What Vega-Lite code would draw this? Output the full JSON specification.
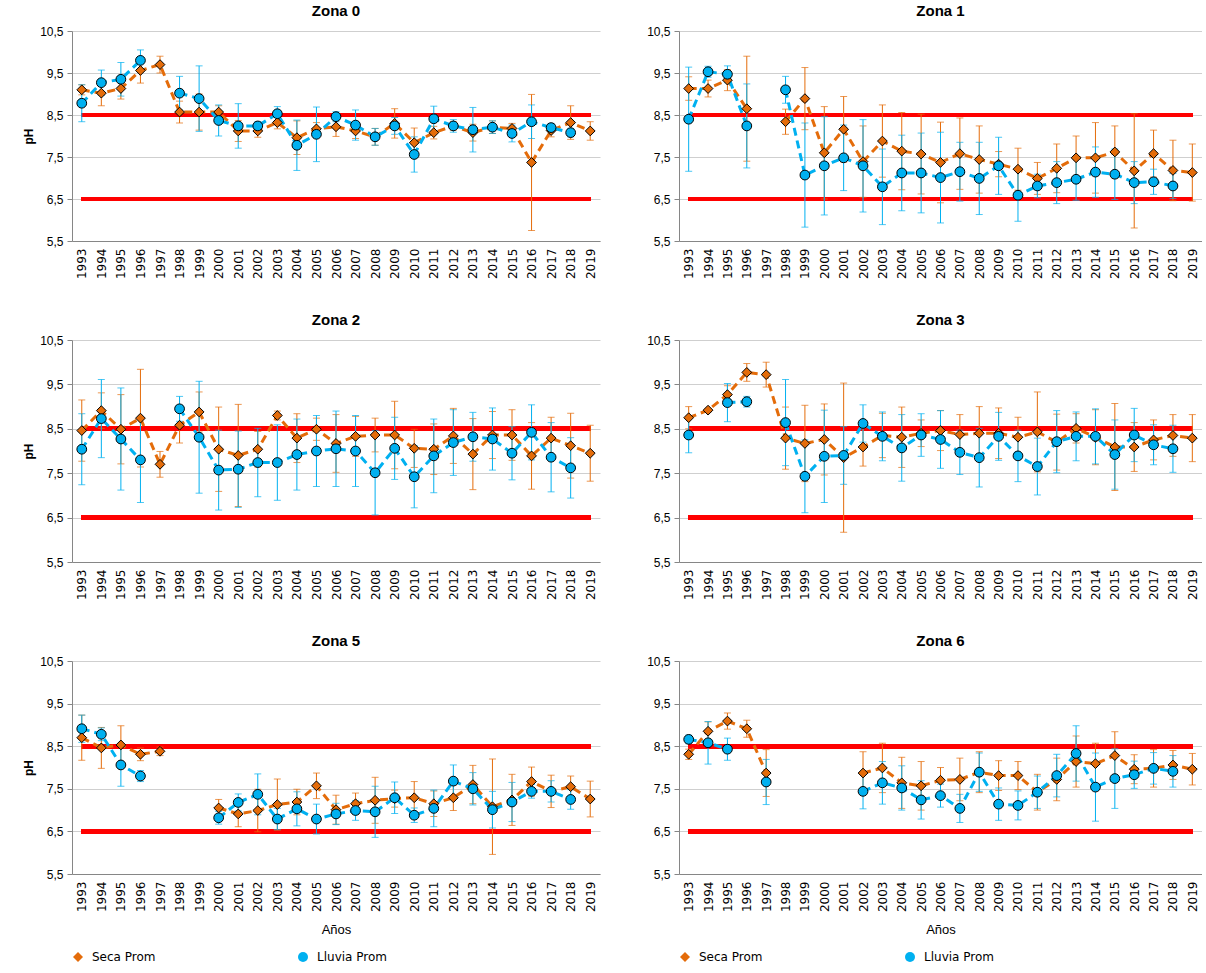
{
"$schema":"https://vega.github.io/schema/vega-lite/v6.json",
"padding":{"left":22,"top":4,"right":0,"bottom":0},
"background":"white",
"datasets":{
"z0":[
{"a":"1993","s":"Seca Prom","v":9.10,"e":0.12},{"a":"1994","s":"Seca Prom","v":9.02,"e":0.30},{"a":"1995","s":"Seca Prom","v":9.13,"e":0.25},{"a":"1996","s":"Seca Prom","v":9.56,"e":0.30},{"a":"1997","s":"Seca Prom","v":9.70,"e":0.20},{"a":"1998","s":"Seca Prom","v":8.57,"e":0.26},{"a":"1999","s":"Seca Prom","v":8.57,"e":0.43},{"a":"2000","s":"Seca Prom","v":8.57,"e":0.15},{"a":"2001","s":"Seca Prom","v":8.12,"e":0.25},{"a":"2002","s":"Seca Prom","v":8.12,"e":0.15},{"a":"2003","s":"Seca Prom","v":8.32,"e":0.15},{"a":"2004","s":"Seca Prom","v":7.96,"e":0.40},{"a":"2005","s":"Seca Prom","v":8.17,"e":0.15},{"a":"2006","s":"Seca Prom","v":8.22,"e":0.23},{"a":"2007","s":"Seca Prom","v":8.12,"e":0.18},{"a":"2008","s":"Seca Prom","v":7.98,"e":0.20},{"a":"2009","s":"Seca Prom","v":8.30,"e":0.35},{"a":"2010","s":"Seca Prom","v":7.84,"e":0.35},{"a":"2011","s":"Seca Prom","v":8.08,"e":0.15},{"a":"2012","s":"Seca Prom","v":8.24,"e":0.10},{"a":"2013","s":"Seca Prom","v":8.08,"e":0.20},{"a":"2014","s":"Seca Prom","v":8.21,"e":0.15},{"a":"2015","s":"Seca Prom","v":8.18,"e":0.12},{"a":"2016","s":"Seca Prom","v":7.37,"e":1.62},{"a":"2017","s":"Seca Prom","v":8.13,"e":0.15},{"a":"2018","s":"Seca Prom","v":8.32,"e":0.40},{"a":"2019","s":"Seca Prom","v":8.12,"e":0.22},
{"a":"1993","s":"Lluvia Prom","v":8.78,"e":0.44},{"a":"1994","s":"Lluvia Prom","v":9.27,"e":0.30},{"a":"1995","s":"Lluvia Prom","v":9.35,"e":0.40},{"a":"1996","s":"Lluvia Prom","v":9.80,"e":0.25},{"a":"1997","s":"Lluvia Prom","v":null,"e":null},{"a":"1998","s":"Lluvia Prom","v":9.02,"e":0.40},{"a":"1999","s":"Lluvia Prom","v":8.89,"e":0.78},{"a":"2000","s":"Lluvia Prom","v":8.37,"e":0.37},{"a":"2001","s":"Lluvia Prom","v":8.24,"e":0.53},{"a":"2002","s":"Lluvia Prom","v":8.24,"e":0.10},{"a":"2003","s":"Lluvia Prom","v":8.53,"e":0.17},{"a":"2004","s":"Lluvia Prom","v":7.78,"e":0.60},{"a":"2005","s":"Lluvia Prom","v":8.04,"e":0.65},{"a":"2006","s":"Lluvia Prom","v":8.46,"e":0.12},{"a":"2007","s":"Lluvia Prom","v":8.26,"e":0.36},{"a":"2008","s":"Lluvia Prom","v":7.98,"e":0.20},{"a":"2009","s":"Lluvia Prom","v":8.24,"e":0.20},{"a":"2010","s":"Lluvia Prom","v":7.56,"e":0.42},{"a":"2011","s":"Lluvia Prom","v":8.41,"e":0.30},{"a":"2012","s":"Lluvia Prom","v":8.24,"e":0.15},{"a":"2013","s":"Lluvia Prom","v":8.15,"e":0.53},{"a":"2014","s":"Lluvia Prom","v":8.21,"e":0.15},{"a":"2015","s":"Lluvia Prom","v":8.06,"e":0.20},{"a":"2016","s":"Lluvia Prom","v":8.34,"e":0.40},{"a":"2017","s":"Lluvia Prom","v":8.20,"e":0.10},{"a":"2018","s":"Lluvia Prom","v":8.08,"e":0.10}
],
"z1":[
{"a":"1993","s":"Seca Prom","v":9.13,"e":0.28},{"a":"1994","s":"Seca Prom","v":9.13,"e":0.20},{"a":"1995","s":"Seca Prom","v":9.33,"e":0.25},{"a":"1996","s":"Seca Prom","v":8.65,"e":1.25},{"a":"1997","s":"Seca Prom","v":null,"e":null},{"a":"1998","s":"Seca Prom","v":8.34,"e":0.30},{"a":"1999","s":"Seca Prom","v":8.89,"e":0.74},{"a":"2000","s":"Seca Prom","v":7.60,"e":1.10},{"a":"2001","s":"Seca Prom","v":8.16,"e":0.78},{"a":"2002","s":"Seca Prom","v":7.39,"e":0.85},{"a":"2003","s":"Seca Prom","v":7.88,"e":0.86},{"a":"2004","s":"Seca Prom","v":7.64,"e":0.92},{"a":"2005","s":"Seca Prom","v":7.57,"e":0.95},{"a":"2006","s":"Seca Prom","v":7.37,"e":0.96},{"a":"2007","s":"Seca Prom","v":7.58,"e":0.85},{"a":"2008","s":"Seca Prom","v":7.44,"e":0.80},{"a":"2009","s":"Seca Prom","v":7.33,"e":0.30},{"a":"2010","s":"Seca Prom","v":7.21,"e":0.50},{"a":"2011","s":"Seca Prom","v":6.99,"e":0.38},{"a":"2012","s":"Seca Prom","v":7.23,"e":0.58},{"a":"2013","s":"Seca Prom","v":7.48,"e":0.52},{"a":"2014","s":"Seca Prom","v":7.48,"e":0.84},{"a":"2015","s":"Seca Prom","v":7.62,"e":0.62},{"a":"2016","s":"Seca Prom","v":7.17,"e":1.36},{"a":"2017","s":"Seca Prom","v":7.58,"e":0.56},{"a":"2018","s":"Seca Prom","v":7.18,"e":0.72},{"a":"2019","s":"Seca Prom","v":7.13,"e":0.68},
{"a":"1993","s":"Lluvia Prom","v":8.40,"e":1.24},{"a":"1994","s":"Lluvia Prom","v":9.53,"e":0.13},{"a":"1995","s":"Lluvia Prom","v":9.47,"e":0.20},{"a":"1996","s":"Lluvia Prom","v":8.24,"e":1.00},{"a":"1997","s":"Lluvia Prom","v":null,"e":null},{"a":"1998","s":"Lluvia Prom","v":9.10,"e":0.32},{"a":"1999","s":"Lluvia Prom","v":7.07,"e":1.24},{"a":"2000","s":"Lluvia Prom","v":7.29,"e":1.17},{"a":"2001","s":"Lluvia Prom","v":7.48,"e":0.78},{"a":"2002","s":"Lluvia Prom","v":7.29,"e":1.10},{"a":"2003","s":"Lluvia Prom","v":6.79,"e":0.90},{"a":"2004","s":"Lluvia Prom","v":7.12,"e":0.90},{"a":"2005","s":"Lluvia Prom","v":7.12,"e":0.95},{"a":"2006","s":"Lluvia Prom","v":7.01,"e":1.08},{"a":"2007","s":"Lluvia Prom","v":7.15,"e":0.70},{"a":"2008","s":"Lluvia Prom","v":6.99,"e":0.86},{"a":"2009","s":"Lluvia Prom","v":7.29,"e":0.68},{"a":"2010","s":"Lluvia Prom","v":6.59,"e":0.62},{"a":"2011","s":"Lluvia Prom","v":6.81,"e":0.28},{"a":"2012","s":"Lluvia Prom","v":6.89,"e":0.50},{"a":"2013","s":"Lluvia Prom","v":6.97,"e":0.50},{"a":"2014","s":"Lluvia Prom","v":7.14,"e":0.60},{"a":"2015","s":"Lluvia Prom","v":7.09,"e":0.60},{"a":"2016","s":"Lluvia Prom","v":6.89,"e":0.50},{"a":"2017","s":"Lluvia Prom","v":6.91,"e":0.30},{"a":"2018","s":"Lluvia Prom","v":6.81,"e":0.30}
],
"z2":[
{"a":"1993","s":"Seca Prom","v":8.46,"e":0.69},{"a":"1994","s":"Seca Prom","v":8.91,"e":0.40},{"a":"1995","s":"Seca Prom","v":8.49,"e":0.78},{"a":"1996","s":"Seca Prom","v":8.74,"e":1.10},{"a":"1997","s":"Seca Prom","v":7.70,"e":0.29},{"a":"1998","s":"Seca Prom","v":8.58,"e":0.40},{"a":"1999","s":"Seca Prom","v":8.88,"e":0.45},{"a":"2000","s":"Seca Prom","v":8.04,"e":0.95},{"a":"2001","s":"Seca Prom","v":7.90,"e":1.15},{"a":"2002","s":"Seca Prom","v":8.04,"e":0.40},{"a":"2003","s":"Seca Prom","v":8.80,"e":0.10},{"a":"2004","s":"Seca Prom","v":8.29,"e":0.55},{"a":"2005","s":"Seca Prom","v":8.49,"e":0.25},{"a":"2006","s":"Seca Prom","v":8.17,"e":0.65},{"a":"2007","s":"Seca Prom","v":8.33,"e":0.45},{"a":"2008","s":"Seca Prom","v":8.36,"e":0.38},{"a":"2009","s":"Seca Prom","v":8.36,"e":0.76},{"a":"2010","s":"Seca Prom","v":8.06,"e":0.43},{"a":"2011","s":"Seca Prom","v":8.04,"e":0.57},{"a":"2012","s":"Seca Prom","v":8.34,"e":0.62},{"a":"2013","s":"Seca Prom","v":7.93,"e":0.80},{"a":"2014","s":"Seca Prom","v":8.36,"e":0.53},{"a":"2015","s":"Seca Prom","v":8.36,"e":0.57},{"a":"2016","s":"Seca Prom","v":7.89,"e":0.75},{"a":"2017","s":"Seca Prom","v":8.29,"e":0.47},{"a":"2018","s":"Seca Prom","v":8.12,"e":0.73},{"a":"2019","s":"Seca Prom","v":7.95,"e":0.63},
{"a":"1993","s":"Lluvia Prom","v":8.04,"e":0.80},{"a":"1994","s":"Lluvia Prom","v":8.73,"e":0.88},{"a":"1995","s":"Lluvia Prom","v":8.27,"e":1.15},{"a":"1996","s":"Lluvia Prom","v":7.80,"e":0.96},{"a":"1997","s":"Lluvia Prom","v":null,"e":null},{"a":"1998","s":"Lluvia Prom","v":8.95,"e":0.28},{"a":"1999","s":"Lluvia Prom","v":8.31,"e":1.26},{"a":"2000","s":"Lluvia Prom","v":7.57,"e":0.90},{"a":"2001","s":"Lluvia Prom","v":7.59,"e":0.86},{"a":"2002","s":"Lluvia Prom","v":7.74,"e":0.77},{"a":"2003","s":"Lluvia Prom","v":7.74,"e":0.85},{"a":"2004","s":"Lluvia Prom","v":7.92,"e":0.80},{"a":"2005","s":"Lluvia Prom","v":8.00,"e":0.80},{"a":"2006","s":"Lluvia Prom","v":8.05,"e":0.85},{"a":"2007","s":"Lluvia Prom","v":8.00,"e":0.80},{"a":"2008","s":"Lluvia Prom","v":7.51,"e":0.95},{"a":"2009","s":"Lluvia Prom","v":8.06,"e":0.70},{"a":"2010","s":"Lluvia Prom","v":7.42,"e":0.70},{"a":"2011","s":"Lluvia Prom","v":7.89,"e":0.83},{"a":"2012","s":"Lluvia Prom","v":8.19,"e":0.74},{"a":"2013","s":"Lluvia Prom","v":8.32,"e":0.55},{"a":"2014","s":"Lluvia Prom","v":8.27,"e":0.70},{"a":"2015","s":"Lluvia Prom","v":7.95,"e":0.60},{"a":"2016","s":"Lluvia Prom","v":8.42,"e":0.62},{"a":"2017","s":"Lluvia Prom","v":7.86,"e":0.78},{"a":"2018","s":"Lluvia Prom","v":7.62,"e":0.68}
],
"z3":[
{"a":"1993","s":"Seca Prom","v":8.75,"e":0.25},{"a":"1994","s":"Seca Prom","v":8.92,"e":0.04},{"a":"1995","s":"Seca Prom","v":9.27,"e":0.20},{"a":"1996","s":"Seca Prom","v":9.77,"e":0.20},{"a":"1997","s":"Seca Prom","v":9.72,"e":0.28},{"a":"1998","s":"Seca Prom","v":8.29,"e":0.70},{"a":"1999","s":"Seca Prom","v":8.17,"e":0.86},{"a":"2000","s":"Seca Prom","v":8.26,"e":0.80},{"a":"2001","s":"Seca Prom","v":7.85,"e":1.68},{"a":"2002","s":"Seca Prom","v":8.09,"e":0.43},{"a":"2003","s":"Seca Prom","v":8.35,"e":0.50},{"a":"2004","s":"Seca Prom","v":8.31,"e":0.68},{"a":"2005","s":"Seca Prom","v":8.40,"e":0.30},{"a":"2006","s":"Seca Prom","v":8.46,"e":0.45},{"a":"2007","s":"Seca Prom","v":8.37,"e":0.45},{"a":"2008","s":"Seca Prom","v":8.40,"e":0.60},{"a":"2009","s":"Seca Prom","v":8.40,"e":0.57},{"a":"2010","s":"Seca Prom","v":8.31,"e":0.45},{"a":"2011","s":"Seca Prom","v":8.43,"e":0.90},{"a":"2012","s":"Seca Prom","v":8.20,"e":0.63},{"a":"2013","s":"Seca Prom","v":8.51,"e":0.33},{"a":"2014","s":"Seca Prom","v":8.31,"e":0.62},{"a":"2015","s":"Seca Prom","v":8.09,"e":0.98},{"a":"2016","s":"Seca Prom","v":8.09,"e":0.55},{"a":"2017","s":"Seca Prom","v":8.25,"e":0.45},{"a":"2018","s":"Seca Prom","v":8.35,"e":0.47},{"a":"2019","s":"Seca Prom","v":8.29,"e":0.53},
{"a":"1993","s":"Lluvia Prom","v":8.36,"e":0.40},{"a":"1994","s":"Lluvia Prom","v":null,"e":null},{"a":"1995","s":"Lluvia Prom","v":9.09,"e":0.43},{"a":"1996","s":"Lluvia Prom","v":9.11,"e":0.12},{"a":"1997","s":"Lluvia Prom","v":null,"e":null},{"a":"1998","s":"Lluvia Prom","v":8.64,"e":0.97},{"a":"1999","s":"Lluvia Prom","v":7.43,"e":0.82},{"a":"2000","s":"Lluvia Prom","v":7.88,"e":1.04},{"a":"2001","s":"Lluvia Prom","v":7.90,"e":0.65},{"a":"2002","s":"Lluvia Prom","v":8.62,"e":0.42},{"a":"2003","s":"Lluvia Prom","v":8.33,"e":0.55},{"a":"2004","s":"Lluvia Prom","v":8.07,"e":0.75},{"a":"2005","s":"Lluvia Prom","v":8.36,"e":0.48},{"a":"2006","s":"Lluvia Prom","v":8.26,"e":0.65},{"a":"2007","s":"Lluvia Prom","v":7.97,"e":0.50},{"a":"2008","s":"Lluvia Prom","v":7.85,"e":0.66},{"a":"2009","s":"Lluvia Prom","v":8.33,"e":0.54},{"a":"2010","s":"Lluvia Prom","v":7.89,"e":0.58},{"a":"2011","s":"Lluvia Prom","v":7.65,"e":0.64},{"a":"2012","s":"Lluvia Prom","v":8.21,"e":0.70},{"a":"2013","s":"Lluvia Prom","v":8.33,"e":0.55},{"a":"2014","s":"Lluvia Prom","v":8.33,"e":0.62},{"a":"2015","s":"Lluvia Prom","v":7.92,"e":0.78},{"a":"2016","s":"Lluvia Prom","v":8.36,"e":0.60},{"a":"2017","s":"Lluvia Prom","v":8.14,"e":0.45},{"a":"2018","s":"Lluvia Prom","v":8.05,"e":0.53}
],
"z5":[
{"a":"1993","s":"Seca Prom","v":8.70,"e":0.53},{"a":"1994","s":"Seca Prom","v":8.46,"e":0.48},{"a":"1995","s":"Seca Prom","v":8.53,"e":0.45},{"a":"1996","s":"Seca Prom","v":8.31,"e":0.15},{"a":"1997","s":"Seca Prom","v":8.38,"e":0.10},{"a":"1998","s":"Seca Prom","v":null,"e":null},{"a":"1999","s":"Seca Prom","v":null,"e":null},{"a":"2000","s":"Seca Prom","v":7.05,"e":0.20},{"a":"2001","s":"Seca Prom","v":6.91,"e":0.30},{"a":"2002","s":"Seca Prom","v":6.99,"e":0.50},{"a":"2003","s":"Seca Prom","v":7.13,"e":0.60},{"a":"2004","s":"Seca Prom","v":7.19,"e":0.30},{"a":"2005","s":"Seca Prom","v":7.57,"e":0.30},{"a":"2006","s":"Seca Prom","v":7.01,"e":0.34},{"a":"2007","s":"Seca Prom","v":7.15,"e":0.25},{"a":"2008","s":"Seca Prom","v":7.23,"e":0.54},{"a":"2009","s":"Seca Prom","v":7.27,"e":0.20},{"a":"2010","s":"Seca Prom","v":7.29,"e":0.38},{"a":"2011","s":"Seca Prom","v":7.15,"e":0.30},{"a":"2012","s":"Seca Prom","v":7.29,"e":0.30},{"a":"2013","s":"Seca Prom","v":7.60,"e":0.45},{"a":"2014","s":"Seca Prom","v":7.08,"e":1.12},{"a":"2015","s":"Seca Prom","v":7.24,"e":0.60},{"a":"2016","s":"Seca Prom","v":7.67,"e":0.34},{"a":"2017","s":"Seca Prom","v":7.44,"e":0.38},{"a":"2018","s":"Seca Prom","v":7.55,"e":0.25},{"a":"2019","s":"Seca Prom","v":7.26,"e":0.42},
{"a":"1993","s":"Lluvia Prom","v":8.91,"e":0.32},{"a":"1994","s":"Lluvia Prom","v":8.78,"e":0.15},{"a":"1995","s":"Lluvia Prom","v":8.06,"e":0.50},{"a":"1996","s":"Lluvia Prom","v":7.80,"e":0.13},{"a":"1997","s":"Lluvia Prom","v":null,"e":null},{"a":"1998","s":"Lluvia Prom","v":null,"e":null},{"a":"1999","s":"Lluvia Prom","v":null,"e":null},{"a":"2000","s":"Lluvia Prom","v":6.82,"e":0.15},{"a":"2001","s":"Lluvia Prom","v":7.18,"e":0.20},{"a":"2002","s":"Lluvia Prom","v":7.37,"e":0.48},{"a":"2003","s":"Lluvia Prom","v":6.79,"e":0.25},{"a":"2004","s":"Lluvia Prom","v":7.03,"e":0.40},{"a":"2005","s":"Lluvia Prom","v":6.79,"e":0.35},{"a":"2006","s":"Lluvia Prom","v":6.91,"e":0.25},{"a":"2007","s":"Lluvia Prom","v":6.99,"e":0.23},{"a":"2008","s":"Lluvia Prom","v":6.96,"e":0.60},{"a":"2009","s":"Lluvia Prom","v":7.29,"e":0.37},{"a":"2010","s":"Lluvia Prom","v":6.88,"e":0.17},{"a":"2011","s":"Lluvia Prom","v":7.04,"e":0.43},{"a":"2012","s":"Lluvia Prom","v":7.68,"e":0.38},{"a":"2013","s":"Lluvia Prom","v":7.50,"e":0.38},{"a":"2014","s":"Lluvia Prom","v":7.01,"e":0.43},{"a":"2015","s":"Lluvia Prom","v":7.19,"e":0.46},{"a":"2016","s":"Lluvia Prom","v":7.44,"e":0.16},{"a":"2017","s":"Lluvia Prom","v":7.44,"e":0.25},{"a":"2018","s":"Lluvia Prom","v":7.25,"e":0.23}
],
"z6":[
{"a":"1993","s":"Seca Prom","v":8.31,"e":0.12},{"a":"1994","s":"Seca Prom","v":8.85,"e":0.22},{"a":"1995","s":"Seca Prom","v":9.09,"e":0.19},{"a":"1996","s":"Seca Prom","v":8.91,"e":0.20},{"a":"1997","s":"Seca Prom","v":7.87,"e":0.55},{"a":"1998","s":"Seca Prom","v":null,"e":null},{"a":"1999","s":"Seca Prom","v":null,"e":null},{"a":"2000","s":"Seca Prom","v":null,"e":null},{"a":"2001","s":"Seca Prom","v":null,"e":null},{"a":"2002","s":"Seca Prom","v":7.87,"e":0.50},{"a":"2003","s":"Seca Prom","v":7.99,"e":0.58},{"a":"2004","s":"Seca Prom","v":7.64,"e":0.60},{"a":"2005","s":"Seca Prom","v":7.57,"e":0.57},{"a":"2006","s":"Seca Prom","v":7.70,"e":0.30},{"a":"2007","s":"Seca Prom","v":7.72,"e":0.50},{"a":"2008","s":"Seca Prom","v":7.89,"e":0.48},{"a":"2009","s":"Seca Prom","v":7.81,"e":0.35},{"a":"2010","s":"Seca Prom","v":7.81,"e":0.33},{"a":"2011","s":"Seca Prom","v":7.42,"e":0.42},{"a":"2012","s":"Seca Prom","v":7.72,"e":0.50},{"a":"2013","s":"Seca Prom","v":8.14,"e":0.60},{"a":"2014","s":"Seca Prom","v":8.09,"e":0.48},{"a":"2015","s":"Seca Prom","v":8.28,"e":0.56},{"a":"2016","s":"Seca Prom","v":7.96,"e":0.34},{"a":"2017","s":"Seca Prom","v":7.98,"e":0.44},{"a":"2018","s":"Seca Prom","v":8.06,"e":0.34},{"a":"2019","s":"Seca Prom","v":7.96,"e":0.37},
{"a":"1993","s":"Lluvia Prom","v":8.66,"e":0.10},{"a":"1994","s":"Lluvia Prom","v":8.58,"e":0.50},{"a":"1995","s":"Lluvia Prom","v":8.43,"e":0.26},{"a":"1996","s":"Lluvia Prom","v":null,"e":null},{"a":"1997","s":"Lluvia Prom","v":7.66,"e":0.53},{"a":"1998","s":"Lluvia Prom","v":null,"e":null},{"a":"1999","s":"Lluvia Prom","v":null,"e":null},{"a":"2000","s":"Lluvia Prom","v":null,"e":null},{"a":"2001","s":"Lluvia Prom","v":null,"e":null},{"a":"2002","s":"Lluvia Prom","v":7.44,"e":0.41},{"a":"2003","s":"Lluvia Prom","v":7.64,"e":0.50},{"a":"2004","s":"Lluvia Prom","v":7.52,"e":0.52},{"a":"2005","s":"Lluvia Prom","v":7.24,"e":0.45},{"a":"2006","s":"Lluvia Prom","v":7.34,"e":0.27},{"a":"2007","s":"Lluvia Prom","v":7.04,"e":0.33},{"a":"2008","s":"Lluvia Prom","v":7.89,"e":0.45},{"a":"2009","s":"Lluvia Prom","v":7.14,"e":0.38},{"a":"2010","s":"Lluvia Prom","v":7.11,"e":0.34},{"a":"2011","s":"Lluvia Prom","v":7.42,"e":0.38},{"a":"2012","s":"Lluvia Prom","v":7.81,"e":0.50},{"a":"2013","s":"Lluvia Prom","v":8.33,"e":0.65},{"a":"2014","s":"Lluvia Prom","v":7.54,"e":0.80},{"a":"2015","s":"Lluvia Prom","v":7.74,"e":0.70},{"a":"2016","s":"Lluvia Prom","v":7.83,"e":0.32},{"a":"2017","s":"Lluvia Prom","v":7.98,"e":0.37},{"a":"2018","s":"Lluvia Prom","v":7.91,"e":0.37}
]
},
"config":{
"font":"Liberation Sans",
"view":{"stroke":null},
"title":{"fontSize":15,"fontWeight":"bold","font":"Liberation Sans","anchor":"middle","offset":6,"color":"#000"},
"axisY":{"grid":true,"gridColor":"#CFCFCF","gridWidth":1,"domainColor":"#868686","tickColor":"#868686","tickSize":5,"labelFontSize":12,"labelColor":"#000","titleFontSize":12,"titleFontWeight":"bold","titleColor":"#000","labelPadding":4},
"axisX":{"grid":false,"domainColor":"#868686","ticks":false,"labelAngle":-90,"labelFont":"DejaVu Sans","labelFontSize":12,"labelColor":"#000","labelPadding":7,"titleFontSize":13,"titleFontWeight":"normal","titleColor":"#000","titlePadding":12}
},
"resolve":{"legend":{"fill":"independent","shape":"independent","color":"independent"},"scale":{"fill":"independent","shape":"independent","color":"independent"}},
"spacing":{"row":34,"column":46},
"columns":2,
"concat":[
{"title":"Zona 0","width":528,"height":210,"data":{"name":"z0"},
"layer":[
{"mark":{"type":"rule","color":"#FF0000","strokeWidth":4},"encoding":{"x":{"datum":"1993","type":"ordinal"},"x2":{"datum":"2019"},"y":{"datum":8.5,"type":"quantitative","title":"pH"}}},
{"mark":{"type":"rule","color":"#FF0000","strokeWidth":4},"encoding":{"x":{"datum":"1993","type":"ordinal"},"x2":{"datum":"2019"},"y":{"datum":6.5,"type":"quantitative","title":"pH"}}},
{"transform":[{"filter":"isValid(datum.v)"}],"mark":{"type":"errorbar","ticks":{"size":7},"thickness":1},"encoding":{"x":{"field":"a","type":"ordinal","title":null},"y":{"field":"v","type":"quantitative","title":"pH"},"yError":{"field":"e"},"color":{"field":"s","type":"nominal","scale":{"range":["#00B0F0","#E46C0A"]},"legend":null}}},
{"mark":{"type":"line","strokeDash":[8,5],"strokeWidth":3},"encoding":{"x":{"field":"a","type":"ordinal","title":null},"y":{"field":"v","type":"quantitative","title":"pH"},"color":{"field":"s","type":"nominal","legend":null}}},
{"mark":{"type":"point","filled":true,"size":95,"stroke":"#000","strokeWidth":1,"opacity":1},"encoding":{"x":{"field":"a","type":"ordinal","title":null,"scale":{"type":"point","padding":0.5,"domain":["1993","1994","1995","1996","1997","1998","1999","2000","2001","2002","2003","2004","2005","2006","2007","2008","2009","2010","2011","2012","2013","2014","2015","2016","2017","2018","2019"]}},"y":{"field":"v","type":"quantitative","title":"pH","scale":{"domain":[5.5,10.5],"nice":false,"zero":false},"axis":{"grid":true,"values":[5.5,6.5,7.5,8.5,9.5,10.5],"labelExpr":"replace(format(datum.value,'.1f'),'.',',')"}},"fill":{"field":"s","type":"nominal","scale":{"domain":["Seca Prom","Lluvia Prom"],"range":["#E46C0A","#00B0F0"]},"legend":null},"shape":{"field":"s","type":"nominal","scale":{"domain":["Seca Prom","Lluvia Prom"],"range":["diamond","circle"]},"legend":null}}}
]},
{"title":"Zona 1","width":523,"height":210,"data":{"name":"z1"},
"layer":[
{"mark":{"type":"rule","color":"#FF0000","strokeWidth":4},"encoding":{"x":{"datum":"1993","type":"ordinal"},"x2":{"datum":"2019"},"y":{"datum":8.5,"type":"quantitative","title":null}}},
{"mark":{"type":"rule","color":"#FF0000","strokeWidth":4},"encoding":{"x":{"datum":"1993","type":"ordinal"},"x2":{"datum":"2019"},"y":{"datum":6.5,"type":"quantitative","title":null}}},
{"transform":[{"filter":"isValid(datum.v)"}],"mark":{"type":"errorbar","ticks":{"size":7},"thickness":1},"encoding":{"x":{"field":"a","type":"ordinal","title":null},"y":{"field":"v","type":"quantitative","title":null},"yError":{"field":"e"},"color":{"field":"s","type":"nominal","scale":{"range":["#00B0F0","#E46C0A"]},"legend":null}}},
{"mark":{"type":"line","strokeDash":[8,5],"strokeWidth":3},"encoding":{"x":{"field":"a","type":"ordinal","title":null},"y":{"field":"v","type":"quantitative","title":null},"color":{"field":"s","type":"nominal","legend":null}}},
{"mark":{"type":"point","filled":true,"size":95,"stroke":"#000","strokeWidth":1,"opacity":1},"encoding":{"x":{"field":"a","type":"ordinal","title":null,"scale":{"type":"point","padding":0.5,"domain":["1993","1994","1995","1996","1997","1998","1999","2000","2001","2002","2003","2004","2005","2006","2007","2008","2009","2010","2011","2012","2013","2014","2015","2016","2017","2018","2019"]}},"y":{"field":"v","type":"quantitative","title":null,"scale":{"domain":[5.5,10.5],"nice":false,"zero":false},"axis":{"grid":true,"values":[5.5,6.5,7.5,8.5,9.5,10.5],"labelExpr":"replace(format(datum.value,'.1f'),'.',',')"}},"fill":{"field":"s","type":"nominal","scale":{"domain":["Seca Prom","Lluvia Prom"],"range":["#E46C0A","#00B0F0"]},"legend":null},"shape":{"field":"s","type":"nominal","scale":{"domain":["Seca Prom","Lluvia Prom"],"range":["diamond","circle"]},"legend":null}}}
]},
{"title":"Zona 2","width":528,"height":222,"data":{"name":"z2"},
"layer":[
{"mark":{"type":"rule","color":"#FF0000","strokeWidth":4},"encoding":{"x":{"datum":"1993","type":"ordinal"},"x2":{"datum":"2019"},"y":{"datum":8.5,"type":"quantitative","title":"pH"}}},
{"mark":{"type":"rule","color":"#FF0000","strokeWidth":4},"encoding":{"x":{"datum":"1993","type":"ordinal"},"x2":{"datum":"2019"},"y":{"datum":6.5,"type":"quantitative","title":"pH"}}},
{"transform":[{"filter":"isValid(datum.v)"}],"mark":{"type":"errorbar","ticks":{"size":7},"thickness":1},"encoding":{"x":{"field":"a","type":"ordinal","title":null},"y":{"field":"v","type":"quantitative","title":"pH"},"yError":{"field":"e"},"color":{"field":"s","type":"nominal","scale":{"range":["#00B0F0","#E46C0A"]},"legend":null}}},
{"mark":{"type":"line","strokeDash":[8,5],"strokeWidth":3},"encoding":{"x":{"field":"a","type":"ordinal","title":null},"y":{"field":"v","type":"quantitative","title":"pH"},"color":{"field":"s","type":"nominal","legend":null}}},
{"mark":{"type":"point","filled":true,"size":95,"stroke":"#000","strokeWidth":1,"opacity":1},"encoding":{"x":{"field":"a","type":"ordinal","title":null,"scale":{"type":"point","padding":0.5,"domain":["1993","1994","1995","1996","1997","1998","1999","2000","2001","2002","2003","2004","2005","2006","2007","2008","2009","2010","2011","2012","2013","2014","2015","2016","2017","2018","2019"]}},"y":{"field":"v","type":"quantitative","title":"pH","scale":{"domain":[5.5,10.5],"nice":false,"zero":false},"axis":{"grid":true,"values":[5.5,6.5,7.5,8.5,9.5,10.5],"labelExpr":"replace(format(datum.value,'.1f'),'.',',')"}},"fill":{"field":"s","type":"nominal","scale":{"domain":["Seca Prom","Lluvia Prom"],"range":["#E46C0A","#00B0F0"]},"legend":null},"shape":{"field":"s","type":"nominal","scale":{"domain":["Seca Prom","Lluvia Prom"],"range":["diamond","circle"]},"legend":null}}}
]},
{"title":"Zona 3","width":523,"height":222,"data":{"name":"z3"},
"layer":[
{"mark":{"type":"rule","color":"#FF0000","strokeWidth":4},"encoding":{"x":{"datum":"1993","type":"ordinal"},"x2":{"datum":"2019"},"y":{"datum":8.5,"type":"quantitative","title":null}}},
{"mark":{"type":"rule","color":"#FF0000","strokeWidth":4},"encoding":{"x":{"datum":"1993","type":"ordinal"},"x2":{"datum":"2019"},"y":{"datum":6.5,"type":"quantitative","title":null}}},
{"transform":[{"filter":"isValid(datum.v)"}],"mark":{"type":"errorbar","ticks":{"size":7},"thickness":1},"encoding":{"x":{"field":"a","type":"ordinal","title":null},"y":{"field":"v","type":"quantitative","title":null},"yError":{"field":"e"},"color":{"field":"s","type":"nominal","scale":{"range":["#00B0F0","#E46C0A"]},"legend":null}}},
{"mark":{"type":"line","strokeDash":[8,5],"strokeWidth":3},"encoding":{"x":{"field":"a","type":"ordinal","title":null},"y":{"field":"v","type":"quantitative","title":null},"color":{"field":"s","type":"nominal","legend":null}}},
{"mark":{"type":"point","filled":true,"size":95,"stroke":"#000","strokeWidth":1,"opacity":1},"encoding":{"x":{"field":"a","type":"ordinal","title":null,"scale":{"type":"point","padding":0.5,"domain":["1993","1994","1995","1996","1997","1998","1999","2000","2001","2002","2003","2004","2005","2006","2007","2008","2009","2010","2011","2012","2013","2014","2015","2016","2017","2018","2019"]}},"y":{"field":"v","type":"quantitative","title":null,"scale":{"domain":[5.5,10.5],"nice":false,"zero":false},"axis":{"grid":true,"values":[5.5,6.5,7.5,8.5,9.5,10.5],"labelExpr":"replace(format(datum.value,'.1f'),'.',',')"}},"fill":{"field":"s","type":"nominal","scale":{"domain":["Seca Prom","Lluvia Prom"],"range":["#E46C0A","#00B0F0"]},"legend":null},"shape":{"field":"s","type":"nominal","scale":{"domain":["Seca Prom","Lluvia Prom"],"range":["diamond","circle"]},"legend":null}}}
]},
{"title":"Zona 5","width":528,"height":213,"data":{"name":"z5"},
"layer":[
{"mark":{"type":"rule","color":"#FF0000","strokeWidth":4},"encoding":{"x":{"datum":"1993","type":"ordinal"},"x2":{"datum":"2019"},"y":{"datum":8.5,"type":"quantitative","title":"pH"}}},
{"mark":{"type":"rule","color":"#FF0000","strokeWidth":4},"encoding":{"x":{"datum":"1993","type":"ordinal"},"x2":{"datum":"2019"},"y":{"datum":6.5,"type":"quantitative","title":"pH"}}},
{"transform":[{"filter":"isValid(datum.v)"}],"mark":{"type":"errorbar","ticks":{"size":7},"thickness":1},"encoding":{"x":{"field":"a","type":"ordinal","title":"Años"},"y":{"field":"v","type":"quantitative","title":"pH"},"yError":{"field":"e"},"color":{"field":"s","type":"nominal","scale":{"range":["#00B0F0","#E46C0A"]},"legend":null}}},
{"mark":{"type":"line","strokeDash":[8,5],"strokeWidth":3},"encoding":{"x":{"field":"a","type":"ordinal","title":"Años"},"y":{"field":"v","type":"quantitative","title":"pH"},"color":{"field":"s","type":"nominal","legend":null}}},
{"mark":{"type":"point","filled":true,"size":95,"stroke":"#000","strokeWidth":1,"opacity":1},"encoding":{"x":{"field":"a","type":"ordinal","title":"Años","scale":{"type":"point","padding":0.5,"domain":["1993","1994","1995","1996","1997","1998","1999","2000","2001","2002","2003","2004","2005","2006","2007","2008","2009","2010","2011","2012","2013","2014","2015","2016","2017","2018","2019"]}},"y":{"field":"v","type":"quantitative","title":"pH","scale":{"domain":[5.5,10.5],"nice":false,"zero":false},"axis":{"grid":true,"values":[5.5,6.5,7.5,8.5,9.5,10.5],"labelExpr":"replace(format(datum.value,'.1f'),'.',',')"}},"fill":{"field":"s","type":"nominal","scale":{"domain":["Seca Prom","Lluvia Prom"],"range":["#E46C0A","#00B0F0"]},"legend":{"title":null,"orient":"bottom","direction":"horizontal","columnPadding":140,"symbolStrokeColor":"#000","symbolStrokeWidth":1,"symbolSize":100,"offset":14,"labelFontSize":12,"labelFont":"DejaVu Sans","labelColor":"#000","labelOffset":8}},"shape":{"field":"s","type":"nominal","scale":{"domain":["Seca Prom","Lluvia Prom"],"range":["diamond","circle"]},"legend":{"title":null,"orient":"bottom","direction":"horizontal","columnPadding":140,"symbolStrokeColor":"#000","symbolStrokeWidth":1,"symbolSize":100,"offset":14,"labelFontSize":12,"labelFont":"DejaVu Sans","labelColor":"#000","labelOffset":8}}}}
]},
{"title":"Zona 6","width":523,"height":213,"data":{"name":"z6"},
"layer":[
{"mark":{"type":"rule","color":"#FF0000","strokeWidth":4},"encoding":{"x":{"datum":"1993","type":"ordinal"},"x2":{"datum":"2019"},"y":{"datum":8.5,"type":"quantitative","title":null}}},
{"mark":{"type":"rule","color":"#FF0000","strokeWidth":4},"encoding":{"x":{"datum":"1993","type":"ordinal"},"x2":{"datum":"2019"},"y":{"datum":6.5,"type":"quantitative","title":null}}},
{"transform":[{"filter":"isValid(datum.v)"}],"mark":{"type":"errorbar","ticks":{"size":7},"thickness":1},"encoding":{"x":{"field":"a","type":"ordinal","title":"Años"},"y":{"field":"v","type":"quantitative","title":null},"yError":{"field":"e"},"color":{"field":"s","type":"nominal","scale":{"range":["#00B0F0","#E46C0A"]},"legend":null}}},
{"mark":{"type":"line","strokeDash":[8,5],"strokeWidth":3},"encoding":{"x":{"field":"a","type":"ordinal","title":"Años"},"y":{"field":"v","type":"quantitative","title":null},"color":{"field":"s","type":"nominal","legend":null}}},
{"mark":{"type":"point","filled":true,"size":95,"stroke":"#000","strokeWidth":1,"opacity":1},"encoding":{"x":{"field":"a","type":"ordinal","title":"Años","scale":{"type":"point","padding":0.5,"domain":["1993","1994","1995","1996","1997","1998","1999","2000","2001","2002","2003","2004","2005","2006","2007","2008","2009","2010","2011","2012","2013","2014","2015","2016","2017","2018","2019"]}},"y":{"field":"v","type":"quantitative","title":null,"scale":{"domain":[5.5,10.5],"nice":false,"zero":false},"axis":{"grid":true,"values":[5.5,6.5,7.5,8.5,9.5,10.5],"labelExpr":"replace(format(datum.value,'.1f'),'.',',')"}},"fill":{"field":"s","type":"nominal","scale":{"domain":["Seca Prom","Lluvia Prom"],"range":["#E46C0A","#00B0F0"]},"legend":{"title":null,"orient":"bottom","direction":"horizontal","columnPadding":140,"symbolStrokeColor":"#000","symbolStrokeWidth":1,"symbolSize":100,"offset":14,"labelFontSize":12,"labelFont":"DejaVu Sans","labelColor":"#000","labelOffset":8}},"shape":{"field":"s","type":"nominal","scale":{"domain":["Seca Prom","Lluvia Prom"],"range":["diamond","circle"]},"legend":{"title":null,"orient":"bottom","direction":"horizontal","columnPadding":140,"symbolStrokeColor":"#000","symbolStrokeWidth":1,"symbolSize":100,"offset":14,"labelFontSize":12,"labelFont":"DejaVu Sans","labelColor":"#000","labelOffset":8}}}}
]}
]
}
